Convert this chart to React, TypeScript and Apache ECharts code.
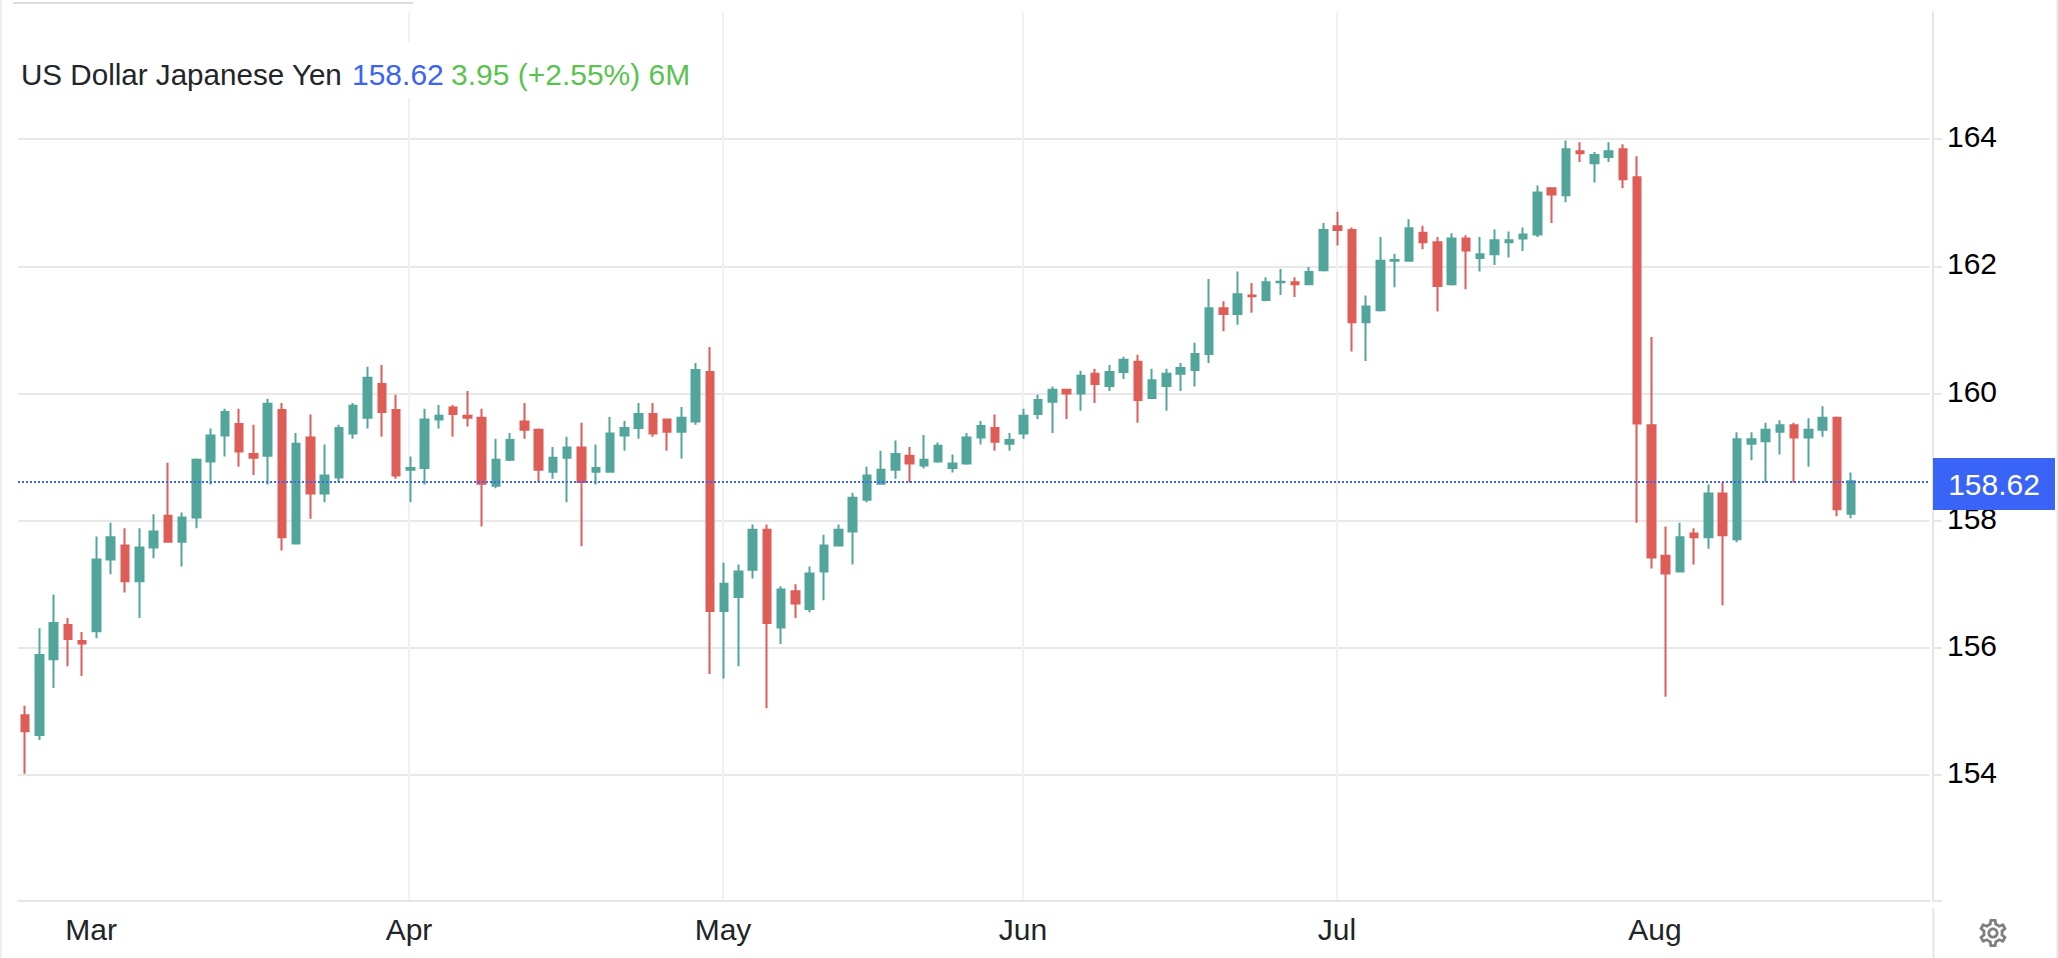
import React, { useEffect, useRef } from "react";
import * as echarts from "echarts";

const opens = [
  154.94, 154.63, 155.82, 156.36, 156.11, 156.26, 157.39, 157.61, 157.05, 157.58,
  158.08, 157.67, 158.05, 158.93, 159.34, 159.52, 159.05, 159.02, 159.74, 157.64,
  159.31, 158.43, 158.68, 159.37, 159.62, 160.15, 159.74, 158.8, 158.83, 159.59,
  159.78, 159.65, 159.62, 158.55, 158.96, 159.56, 159.43, 158.77, 158.99, 159.15,
  158.77, 158.77, 159.34, 159.46, 159.68, 159.59, 159.4, 159.56, 160.34, 156.58,
  156.8, 157.23, 157.86, 156.32, 156.89, 156.61, 157.2, 157.61, 157.83, 158.33,
  158.58, 158.8, 159.02, 158.87, 158.93, 158.83, 158.9, 159.31, 159.46, 159.21,
  159.37, 159.68, 159.87, 160.06, 160.0, 160.31, 160.12, 160.34, 160.5, 159.93,
  160.12, 160.31, 160.37, 160.62, 161.34, 161.25, 161.54, 161.47, 161.75, 161.75,
  161.72, 161.94, 162.63, 162.57, 161.12, 161.31, 162.09, 162.09, 162.53, 162.38,
  161.72, 162.44, 162.13, 162.19, 162.38, 162.44, 162.5, 163.23, 163.12, 163.81,
  163.62, 163.72, 163.84, 163.4, 159.5, 157.45, 157.2, 157.8, 157.74, 158.43,
  157.71, 159.21, 159.25, 159.4, 159.5, 159.31, 159.43, 159.62, 158.11,
];
const closes = [
  154.69, 155.89, 156.39, 156.14, 156.07, 157.39, 157.74, 157.05, 157.58, 157.83,
  157.67, 158.05, 158.96, 159.34, 159.71, 159.09, 158.99, 159.84, 157.74, 159.21,
  158.43, 158.71, 159.46, 159.81, 160.25, 159.71, 158.71, 158.83, 159.59, 159.65,
  159.68, 159.62, 158.58, 158.96, 159.27, 159.43, 158.8, 158.99, 159.15, 158.61,
  158.83, 159.37, 159.46, 159.68, 159.37, 159.4, 159.62, 160.37, 156.58, 157.01,
  157.2, 157.86, 156.39, 156.92, 156.7, 157.17, 157.61, 157.86, 158.36, 158.71,
  158.8, 159.05, 158.9, 158.96, 159.18, 158.9, 159.31, 159.49, 159.24, 159.27,
  159.65, 159.9, 160.06, 160.0, 160.28, 160.15, 160.34, 160.53, 159.9, 160.21,
  160.31, 160.4, 160.62, 161.34, 161.25, 161.56, 161.53, 161.75, 161.76, 161.72,
  161.91, 162.57, 162.57, 161.12, 161.37, 162.09, 162.1, 162.6, 162.38, 161.69,
  162.44, 162.25, 162.19, 162.41, 162.41, 162.5, 163.16, 163.13, 163.84, 163.78,
  163.75, 163.81, 163.37, 159.53, 157.42, 157.17, 157.74, 157.74, 158.43, 157.77,
  159.28, 159.28, 159.43, 159.5, 159.31, 159.43, 159.62, 158.18, 158.62,
];
const lows = [
  154.02, 154.55, 155.37, 155.71, 155.56, 156.15, 157.16, 156.87, 156.47, 157.41,
  157.66, 157.28, 157.88, 158.57, 159.01, 158.85, 158.72, 158.57, 157.53, 157.63,
  158.03, 158.29, 158.6, 159.29, 159.45, 159.32, 158.66, 158.29, 158.57, 159.45,
  159.32, 159.48, 157.91, 158.51, 158.94, 159.29, 158.6, 158.66, 158.29, 157.6,
  158.57, 158.76, 159.1, 159.29, 159.32, 159.1, 158.98, 159.51, 155.59, 155.52,
  155.71, 157.09, 155.05, 156.06, 156.47, 156.56, 156.75, 157.6, 157.31, 158.29,
  158.57, 158.66, 158.6, 158.82, 158.91, 158.76, 158.88, 159.2, 159.1, 159.1,
  159.29, 159.6, 159.38, 159.6, 159.73, 159.85, 160.04, 160.23, 159.54, 159.92,
  159.73, 160.04, 160.11, 160.48, 160.98, 161.08, 161.27, 161.45, 161.55, 161.52,
  161.71, 161.92, 162.33, 160.66, 160.51, 161.29, 161.67, 162.08, 162.27, 161.29,
  161.7, 161.64, 161.92, 162.02, 162.14, 162.24, 162.46, 162.68, 163.01, 163.64,
  163.32, 163.64, 163.23, 157.97, 157.25, 155.23, 157.19, 157.31, 157.56, 156.67,
  157.66, 158.95, 158.6, 159.04, 158.6, 158.85, 159.32, 158.07, 158.04,
];
const highs = [
  155.09, 156.31, 156.84, 156.47, 156.25, 157.75, 157.97, 157.88, 157.88, 158.1,
  158.91, 158.13, 158.98, 159.45, 159.76, 159.76, 159.51, 159.92, 159.85, 159.38,
  159.67, 159.2, 159.51, 159.85, 160.42, 160.45, 159.98, 159.01, 159.76, 159.82,
  159.82, 160.04, 159.76, 159.29, 159.38, 159.85, 159.45, 159.16, 159.32, 159.54,
  159.2, 159.63, 159.57, 159.85, 159.85, 159.6, 159.79, 160.48, 160.73, 157.34,
  157.31, 157.94, 157.94, 156.97, 157.0, 157.28, 157.78, 157.94, 158.44, 158.85,
  159.1, 159.26, 159.16, 159.35, 159.23, 159.04, 159.38, 159.57, 159.67, 159.38,
  159.76, 159.98, 160.11, 160.07, 160.36, 160.39, 160.45, 160.58, 160.61, 160.39,
  160.39, 160.48, 160.8, 161.8, 161.45, 161.92, 161.74, 161.83, 161.96, 161.83,
  161.99, 162.68, 162.86, 162.61, 161.54, 162.46, 162.2, 162.74, 162.64, 162.46,
  162.52, 162.49, 162.46, 162.58, 162.55, 162.61, 163.27, 163.24, 163.98, 163.95,
  163.8, 163.95, 163.92, 163.73, 160.89, 157.91, 157.97, 157.88, 158.57, 158.6,
  159.39, 159.39, 159.54, 159.58, 159.54, 159.61, 159.8, 159.64, 158.76,
];

const emptySlotsAfterLastCandle = 5;
const categories = Array.from(
  { length: opens.length + emptySlotsAfterLastCandle },
  (_, i) => `D${i + 1}`
);

const monthLabels = ["Mar", "Apr", "May", "Jun", "Jul", "Aug"];
const monthPositions = [5.12, 27.41, 49.42, 70.45, 92.46, 114.75];
const priceTicks = [154, 156, 158, 160, 162, 164];

const titleName = "US Dollar Japanese Yen";
const lastPrice = 158.62;
const changeText = "3.95 (+2.55%) 6M";

const UP = "#52a59a";
const DOWN = "#de5d57";
const BLUE = "#3a64f5";
const GREEN = "#5ac350";
const FONT = "'Liberation Sans', Arial, sans-serif";

const GEAR =
  "M19.43 12.98c.04-.32.07-.64.07-.98 0-.34-.03-.66-.07-.98l2.11-1.65c.19-.15.24-.42.12-.64l-2-3.46c-.09-.16-.26-.25-.44-.25-.06 0-.12.01-.17.03l-2.49 1c-.52-.4-1.08-.73-1.69-.98l-.38-2.65C14.46 2.18 14.25 2 14 2h-4c-.25 0-.46.18-.49.42l-.38 2.65c-.61.25-1.17.59-1.69.98l-2.49-1c-.06-.02-.12-.03-.18-.03-.17 0-.34.09-.43.25l-2 3.46c-.13.22-.07.49.12.64l2.11 1.65c-.04.32-.07.65-.07.98 0 .33.03.66.07.98l-2.11 1.65c-.19.15-.24.42-.12.64l2 3.46c.09.16.26.25.44.25.06 0 .12-.01.17-.03l2.49-1c.52.4 1.08.73 1.69.98l.38 2.65c.03.24.24.42.49.42h4c.25 0 .46-.18.49-.42l.38-2.65c.61-.25 1.17-.59 1.69-.98l2.49 1c.06.02.12.03.18.03.17 0 .34-.09.43-.25l2-3.46c.12-.22.07-.49-.12-.64l-2.11-1.65zm-1.98-1.71c.04.31.05.52.05.73 0 .21-.02.43-.05.73l-.14 1.13.89.7 1.08.84-.7 1.21-1.27-.51-1.04-.42-.9.68c-.43.32-.84.56-1.25.73l-1.06.43-.16 1.13-.2 1.35h-1.4l-.19-1.35-.16-1.13-1.06-.43c-.43-.18-.83-.41-1.23-.71l-.91-.7-1.06.43-1.27.51-.7-1.21 1.08-.84.89-.7-.14-1.13c-.03-.31-.05-.54-.05-.74s.02-.43.05-.73l.14-1.13-.89-.7-1.08-.84.7-1.21 1.27.51 1.04.42.9-.68c.43-.32.84-.56 1.25-.73l1.06-.43.16-1.13.2-1.35h1.39l.19 1.35.16 1.13 1.06.43c.43.18.83.41 1.23.71l.91.7 1.06-.43 1.27-.51.7 1.21-1.07.85-.89.7.14 1.13zM12 8c-2.21 0-4 1.79-4 4s1.79 4 4 4 4-1.79 4-4-1.79-4-4-4zm0 6c-1.1 0-2-.9-2-2s.9-2 2-2 2 .9 2 2-.9 2-2 2z";

echarts.graphic.registerShape("gearIcon", echarts.graphic.extendPath(GEAR, {}));

const line = (x1: number, y1: number, x2: number, y2: number, stroke: string, z = 50) => ({
  type: "line",
  silent: true,
  z,
  shape: { x1, y1, x2, y2 },
  style: { stroke, lineWidth: 2 },
});

const title = (text: string, x: number, fill: string, size: number) => ({
  type: "text",
  silent: true,
  z: 102,
  x,
  y: 74,
  style: {
    text,
    fill,
    font: `${size}px ${FONT}`,
    textAlign: "left",
    textVerticalAlign: "middle",
  },
});

export default function App() {
  const ref = useRef<HTMLDivElement>(null);

  useEffect(() => {
    const chart = echarts.init(ref.current!, undefined, { renderer: "svg" });
    chart.setOption({
      animation: false,
      backgroundColor: "#ffffff",
      grid: { left: 18, top: 12, width: 1911.6, height: 889, containLabel: false },
      xAxis: [
        {
          type: "category",
          data: categories,
          boundaryGap: true,
          position: "bottom",
          axisLine: { show: true, onZero: false, lineStyle: { color: "#e6e6e6", width: 2 } },
          axisTick: { show: false },
          axisLabel: { show: false },
          splitLine: { show: false },
        },
        {
          type: "value",
          min: 0,
          max: categories.length,
          position: "bottom",
          axisLine: { show: false, onZero: false },
          axisTick: { show: false, customValues: monthPositions },
          axisLabel: {
            show: true,
            customValues: monthPositions,
            margin: 13,
            color: "#212529",
            fontFamily: FONT,
            fontSize: 30,
            formatter: (v: number) => monthLabels[monthPositions.indexOf(v)] ?? "",
          },
          splitLine: {
            show: true,
            showMinLine: false,
            showMaxLine: false,
            lineStyle: { color: "#eff2f5", width: 2 },
          },
        },
      ],
      yAxis: {
        type: "value",
        position: "right",
        offset: 3.4,
        min: 152.02,
        max: 166,
        axisLine: { show: true, onZero: false, lineStyle: { color: "#e6e6e6", width: 2 } },
        axisTick: {
          show: true,
          length: 9,
          customValues: priceTicks,
          lineStyle: { color: "#e6e6e6", width: 2 },
        },
        axisLabel: {
          show: true,
          customValues: priceTicks,
          margin: 14,
          color: "#000000",
          fontFamily: FONT,
          fontSize: 30,
          verticalAlign: "bottom",
          lineHeight: 5,
          formatter: (v: number) => String(v),
        },
        splitLine: { show: true, lineStyle: { color: "#e8e8e8", width: 2 } },
      },
      series: [
        {
          type: "candlestick",
          xAxisIndex: 0,
          yAxisIndex: 0,
          barWidth: 8,
          data: opens.map((o, i) => [o, closes[i], lows[i], highs[i]]),
          itemStyle: {
            color: UP,
            color0: DOWN,
            borderColor: UP,
            borderColor0: DOWN,
            borderWidth: 2,
          },
          markLine: {
            silent: true,
            symbol: "none",
            animation: false,
            label: { show: false },
            lineStyle: { color: BLUE, width: 2, type: [2, 2] },
            data: [{ yAxis: lastPrice }],
          },
        },
      ],
      graphic: [
        // page edges and the short grey rule above the title
        line(1, 0, 1, 958, "#eceef2"),
        line(2057, 0, 2057, 958, "#eceef2"),
        line(13, 3, 413, 3, "#dcdcdc"),
        // the price axis continues below the plot after a small gap
        line(1933.4, 908, 1933.4, 958, "#e6e6e6"),
        line(1934, 901, 1942, 901, "#e6e6e6"),
        // title, on a white backing that hides the gridlines
        {
          type: "rect",
          silent: true,
          z: 100,
          shape: { x: 10, y: 42, width: 700, height: 56 },
          style: { fill: "#ffffff" },
        },
        title(titleName, 21, "#222529", 29.6),
        title(lastPrice.toFixed(2), 352, BLUE, 30),
        title(changeText, 451, GREEN, 30),
        // last price tag
        {
          type: "rect",
          silent: true,
          z: 100,
          shape: { x: 1933, y: 458, width: 122, height: 52 },
          style: { fill: BLUE },
        },
        {
          type: "text",
          silent: true,
          z: 101,
          x: 1994,
          y: 484,
          style: {
            text: lastPrice.toFixed(2),
            fill: "#ffffff",
            font: `30px ${FONT}`,
            textAlign: "center",
            textVerticalAlign: "middle",
          },
        },
        // settings icon
        {
          type: "gearIcon",
          silent: true,
          z: 100,
          x: 1976.2,
          y: 916.2,
          scaleX: 1.4,
          scaleY: 1.4,
          style: { fill: "#808080" },
        },
      ],
    });
    return () => chart.dispose();
  }, []);

  return (
    <div
      ref={ref}
      style={{ position: "absolute", left: 0, top: 0, width: 2058, height: 958, background: "#fff" }}
    />
  );
}
